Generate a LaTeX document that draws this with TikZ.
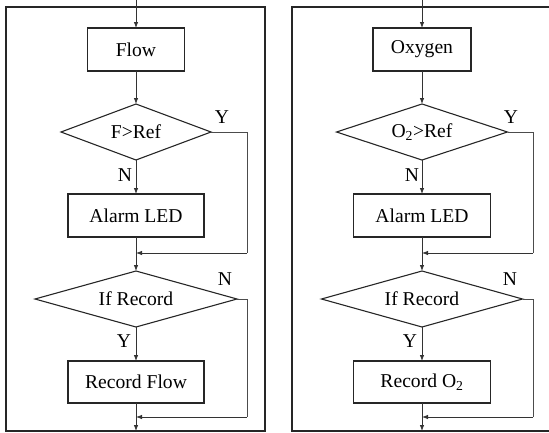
\documentclass[tikz,border=0pt]{standalone}
\usepackage{fontspec}
\setmainfont{Liberation Serif}
\usetikzlibrary{shapes.geometric,arrows.meta}
\begin{document}
\begin{tikzpicture}[x=1pt,y=-1pt,
  box/.style={draw=black!85,line width=1.1pt,rectangle,inner sep=0pt,outer sep=0pt,font=\fontsize{19.6}{21}\selectfont},
  dec/.style={draw=black!85,line width=1.1pt,diamond,aspect=3,inner sep=0pt,outer sep=0pt,minimum height=56pt,font=\fontsize{19.6}{21}\selectfont},
  lab/.style={inner sep=0pt,font=\fontsize{19.6}{21}\selectfont},
  arr/.style={draw=black!80,line width=0.8pt,-{Latex[length=6pt,width=4.5pt]}},
  ln/.style={draw=black!70,line width=0.8pt},
  frame/.style={draw=black!85,line width=1.4pt}]
\useasboundingbox (0,0) rectangle (549,432);
% ---------- left panel ----------
\draw[frame] (6,7) rectangle (265,431);
\coordinate (Ltop) at (136,0);
\node[box,minimum width=97pt,minimum height=43pt] (Lflow) at (136,49.5) {Flow};
\node[dec,minimum width=150pt] (Ld1) at (136,132) {F>Ref};
\node[box,minimum width=136pt,minimum height=43pt] (Lalarm) at (136,215.5) {Alarm LED};
\coordinate (Lm1) at (136,253);
\node[dec,minimum width=202pt] (Ld2) at (136,299) {If Record};
\node[box,minimum width=136pt,minimum height=42pt] (Lrec) at (136,382) {Record Flow};
\coordinate (Lm2) at (136,417);
\coordinate (Lbot) at (136,431);
\coordinate (Lb1) at (247,132);
\coordinate (Lb1d) at (247,253);
\coordinate (Lb2) at (247,299);
\coordinate (Lb2d) at (247,417);
\draw[arr] (Ltop) -- (Lflow.north);
\draw[arr] (Lflow.south) -- (Ld1.north);
\draw[arr] (Ld1.south) -- (Lalarm.north);
\draw[arr] (Lalarm.south) -- (Ld2.north);
\draw[arr] (Ld2.south) -- (Lrec.north);
\draw[arr] (Lrec.south) -- (Lbot);
\draw[ln] (Ld1.east) -- (Lb1) -- (Lb1d);
\draw[arr] (Lb1d) -- (Lm1);
\draw[ln] (Ld2.east) -- (Lb2) -- (Lb2d);
\draw[arr] (Lb2d) -- (Lm2);
\node[lab] (LY1) at (222,117) {Y};
\node[lab] (LN1) at (125,175) {N};
\node[lab] (LN2) at (225,279) {N};
\node[lab] (LY2) at (124,341) {Y};
% ---------- right panel ----------
\draw[frame] (560,7) -- (292,7) -- (292,431) -- (560,431);
\coordinate (Rtop) at (422,0);
\node[box,minimum width=98pt,minimum height=43pt] (Rox) at (422,49.5) {Oxygen};
\node[dec,minimum width=171pt] (Rd1) at (422,132) {O\textsubscript{2}>Ref};
\node[box,minimum width=137pt,minimum height=43pt] (Ralarm) at (422,215.5) {Alarm LED};
\coordinate (Rm1) at (422,253);
\node[dec,minimum width=201pt] (Rd2) at (422,299) {If Record};
\node[box,minimum width=137pt,minimum height=42pt] (Rrec) at (422,382) {Record O\textsubscript{2}};
\coordinate (Rm2) at (422,417);
\coordinate (Rbot) at (422,431);
\coordinate (Rb1) at (533,132);
\coordinate (Rb1d) at (533,253);
\coordinate (Rb2) at (533,299);
\coordinate (Rb2d) at (533,417);
\draw[arr] (Rtop) -- (Rox.north);
\draw[arr] (Rox.south) -- (Rd1.north);
\draw[arr] (Rd1.south) -- (Ralarm.north);
\draw[arr] (Ralarm.south) -- (Rd2.north);
\draw[arr] (Rd2.south) -- (Rrec.north);
\draw[arr] (Rrec.south) -- (Rbot);
\draw[ln] (Rd1.east) -- (Rb1) -- (Rb1d);
\draw[arr] (Rb1d) -- (Rm1);
\draw[ln] (Rd2.east) -- (Rb2) -- (Rb2d);
\draw[arr] (Rb2d) -- (Rm2);
\node[lab] (RY1) at (511,117) {Y};
\node[lab] (RN1) at (412,175) {N};
\node[lab] (RN2) at (510,279) {N};
\node[lab] (RY2) at (410,341) {Y};
\end{tikzpicture}
\end{document}
